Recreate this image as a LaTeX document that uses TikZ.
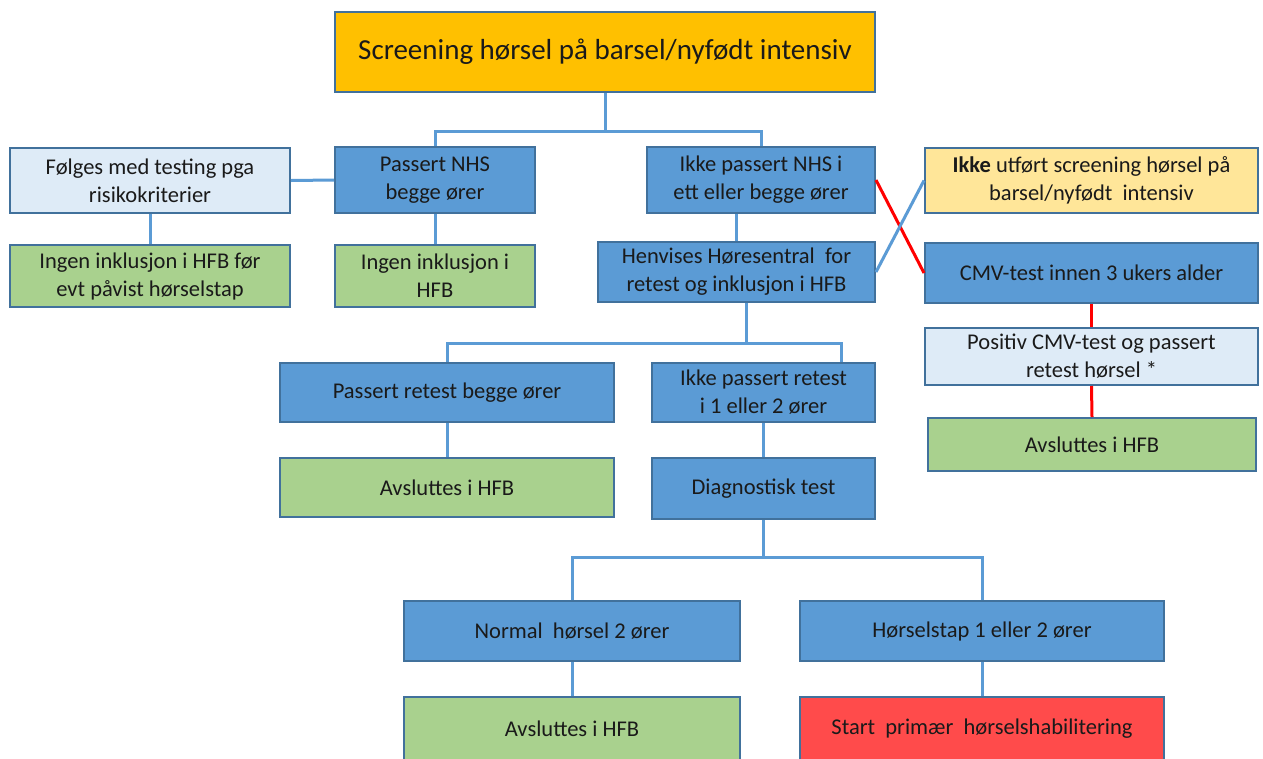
\documentclass[tikz,border=0pt]{standalone}
\usepackage{fontspec}
\setmainfont{Carlito}
\definecolor{bord}{HTML}{41719C}
\definecolor{conn}{HTML}{5B9BD5}
\definecolor{bluef}{HTML}{5B9BD5}
\definecolor{lightb}{HTML}{DEEBF7}
\definecolor{lighty}{HTML}{FFE699}
\definecolor{orangef}{HTML}{FFC000}
\definecolor{greenf}{HTML}{A9D18E}
\definecolor{redf}{HTML}{FF4B4B}
\definecolor{txt}{HTML}{1A1A1A}
\begin{document}
\begin{tikzpicture}[x=1pt,y=-1pt,
  box/.style={draw=bord, line width=2pt, inner sep=0pt, align=center, text=txt,
    font=\fontsize{22.5}{28}\selectfont},
  bluebox/.style={box, fill=bluef},
  greenbox/.style={box, fill=greenf},
  lbbox/.style={box, fill=lightb},
  cl/.style={draw=conn, line width=3pt},
  rl/.style={draw=red, line width=3pt}]
\useasboundingbox[fill=white] (0,0) rectangle (1263,758);

\node[box, fill=orangef, minimum width=540, minimum height=80, font=\fontsize{29}{34}\selectfont] (top) at (605,52) {Screening hørsel på barsel/nyfødt intensiv};

\node[lbbox, minimum width=280, minimum height=65] (folg) at (150,180.5) {Følges med testing pga\\risikokriterier};
\node[bluebox, minimum width=200, minimum height=66] (pass) at (435,180) {Passert NHS\\begge ører};
\node[bluebox, minimum width=228, minimum height=66] (ikke) at (761,180) {Ikke passert NHS i\\ett eller begge ører};
\node[box, fill=lighty, minimum width=333, minimum height=65] (utf) at (1091.5,180.5) {\textbf{Ikke} utført screening hørsel på\\barsel/nyfødt\ \ intensiv};

\node[greenbox, minimum width=280, minimum height=62] (ingen1) at (150,276) {Ingen inklusjon i HFB før\\evt påvist hørselstap};
\node[greenbox, minimum width=200, minimum height=62] (ingen2) at (435,276) {Ingen inklusjon i\\HFB};
\node[bluebox, minimum width=277, minimum height=60] (henv) at (736.5,272) {Henvises Høresentral\ \ for\\retest og inklusjon i HFB};
\node[bluebox, minimum width=333, minimum height=60] (cmv) at (1091.5,273) {CMV-test innen 3 ukers alder};
\node[lbbox, minimum width=333, minimum height=57] (pos) at (1091.5,356.5) {Positiv CMV-test og passert\\retest hørsel *};
\node[greenbox, minimum width=328, minimum height=53] (avsR) at (1092,444.5) {Avsluttes i HFB};

\node[bluebox, minimum width=334, minimum height=59] (passR) at (447,392.5) {Passert retest begge ører};
\node[bluebox, minimum width=223, minimum height=59] (ikkeR) at (763.5,392.5) {Ikke passert retest\\i 1 eller 2 ører};
\node[greenbox, minimum width=334, minimum height=59] (avsM) at (447,487.5) {Avsluttes i HFB};
\node[bluebox, minimum width=223, minimum height=61] (diag) at (763.5,488.5) {Diagnostisk test};

\node[bluebox, minimum width=336, minimum height=60] (norm) at (572,631) {Normal\ \ hørsel 2 ører};
\node[bluebox, minimum width=364, minimum height=60] (hors) at (982,631) {Hørselstap 1 eller 2 ører};
\node[greenbox, minimum width=336, minimum height=63] (avsB) at (572,728.5) {Avsluttes i HFB};
\node[box, fill=redf, minimum width=364, minimum height=63] (start) at (982,728.5) {Start\ \ primær\ \ hørselshabilitering};

% connectors
\draw[cl] (top.south) -- ++(0,38) coordinate (j1);
\draw[cl] (pass.north) |- (j1) -| (ikke.north);
\draw[cl] (folg.east) -- (pass.west);
\draw[cl] (folg.south) -- (ingen1.north);
\draw[cl] (pass.south) -- (ingen2.north);
\draw[cl] (henv.north |- ikke.south) -- (henv.north);
\draw[rl] (ikke.east) -- (cmv.west);
\draw[cl] (henv.east) -- (utf.west);
\draw[rl] (cmv.south) -- (pos.north);
\draw[rl] (pos.south) -- (avsR.north);
\draw[cl] ([xshift=9.5pt]henv.south) -- ++(0,40) coordinate (j2);
\draw[cl] (passR.north) |- (j2) -| ([xshift=77.5pt]ikkeR.north);
\draw[cl] (passR.south) -- (avsM.north);
\draw[cl] (ikkeR.south) -- (diag.north);
\draw[cl] (diag.south) -- ++(0,37) coordinate (j3);
\draw[cl] (norm.north) |- (j3) -| (hors.north);
\draw[cl] (norm.south) -- (avsB.north);
\draw[cl] (hors.south) -- (start.north);
\end{tikzpicture}
\end{document}
